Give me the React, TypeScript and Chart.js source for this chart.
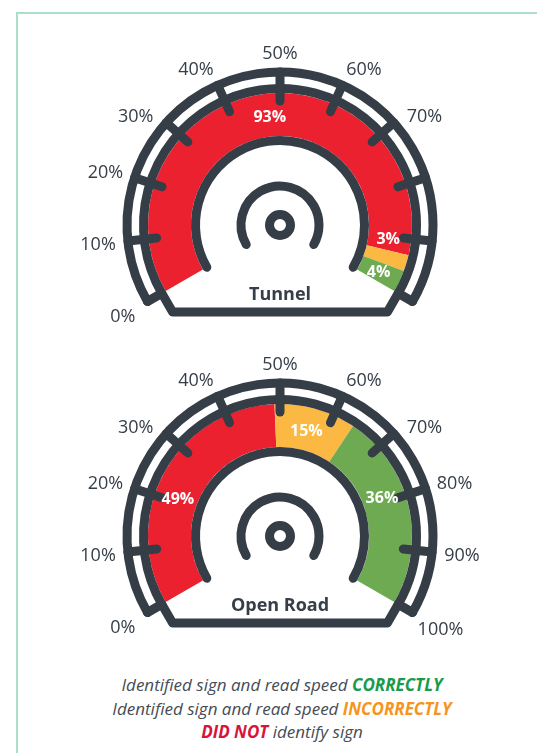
import React, { useEffect, useRef } from 'react';
import Chart from 'chart.js/auto';

// ---- data ----
const categories = ['Did not identify sign', 'Identified sign, read speed incorrectly', 'Identified sign, read speed correctly'];
const tunnelValues = [93, 3, 4];
const openRoadValues = [49, 15, 36];
const tunnelTickLabels = ['0%', '10%', '20%', '30%', '40%', '50%', '60%', '70%'];
const openRoadTickLabels = ['0%', '10%', '20%', '30%', '40%', '50%', '60%', '70%', '80%', '90%', '100%'];
const gaugeTitles = ['Tunnel', 'Open Road'];

// ---- styles ----
const DARK = '#353d46';
const TEXT = '#363e48';
const SEGMENT_COLORS = ['#ec2130', '#fbb943', '#6eaa51'];
const TICK_NUDGE_DEG = [0, 0, -1, -5, -4.3, 0, 4.3, 5, 1, 0, 0];
const TUNNEL_LABEL_SHIFT = [3, -9.8, 0];
const OPEN_ROAD_LABEL_SHIFT = [-8.4, -1.6, -7.5];

const gaugePlugin = {
  id: 'gauge',
  afterDatasetsDraw(chart: any, _args: any, opts: any) {
    const meta = chart.getDatasetMeta(0);
    const arcs = meta.data as any[];
    if (!arcs.length) return;
    const first = arcs[0];
    const last = arcs[arcs.length - 1];
    const cx = first.x, cy = first.y;
    const R = first.outerRadius, r0 = first.innerRadius;
    const a0 = first.startAngle, a1 = last.endAngle;
    const ctx = chart.ctx as CanvasRenderingContext2D;
    const pt = (r: number, a: number) => [cx + r * Math.cos(a), cy + r * Math.sin(a)];
    const toRad = (d: number) => (d * Math.PI) / 180;

    ctx.save();
    ctx.strokeStyle = DARK;
    ctx.lineWidth = 9;
    ctx.lineCap = 'round';
    ctx.lineJoin = 'round';

    const rOuter = R + 21;
    const rInner = R + 4.5;
    ctx.beginPath(); ctx.arc(cx, cy, rOuter, a0, a1); ctx.stroke();
    ctx.beginPath(); ctx.arc(cx, cy, rInner, a0, a1); ctx.stroke();

    // frame ends and base
    const baseY = cy + 87;
    const p0 = pt(rInner, a0);
    const p1 = pt(rInner, a1);
    const t0 = (baseY - p0[1]) / -Math.cos(a0);
    const left = [p0[0] + Math.sin(a0) * t0, baseY];
    const t1 = (baseY - p1[1]) / Math.cos(a1);
    const right = [p1[0] - Math.sin(a1) * t1, baseY];
    const q0 = pt(rOuter, a0), q1 = pt(rOuter, a1);
    ctx.beginPath();
    ctx.moveTo(q0[0], q0[1]);
    ctx.lineTo(p0[0], p0[1]);
    ctx.lineTo(left[0], left[1]);
    ctx.lineTo(right[0], right[1]);
    ctx.lineTo(p1[0], p1[1]);
    ctx.lineTo(q1[0], q1[1]);
    ctx.stroke();

    // ticks
    for (let i = 1; i < 10; i++) {
      const a = a0 + ((a1 - a0) * i) / 10;
      const s = pt(rOuter, a), e = pt(R - 8, a);
      ctx.beginPath(); ctx.moveTo(s[0], s[1]); ctx.lineTo(e[0], e[1]); ctx.stroke();
    }

    // inner arcs and hub
    ctx.beginPath(); ctx.arc(cx, cy, r0 - 4.5, a0, a1); ctx.stroke();
    ctx.beginPath(); ctx.arc(cx, cy, 39, a0, a1); ctx.stroke();
    ctx.beginPath(); ctx.arc(cx, cy, 10.5, 0, Math.PI * 2); ctx.stroke();

    // tick labels
    ctx.fillStyle = TEXT;
    ctx.font = '18px "Open Sans"';
    ctx.textAlign = 'center';
    ctx.textBaseline = 'middle';
    (opts.tickLabels || []).forEach((lab: string, i: number) => {
      const a = a0 + ((a1 - a0) * i) / 10 + toRad(TICK_NUDGE_DEG[i] || 0);
      const w = ctx.measureText(lab).width;
      const c = Math.abs(Math.cos(a));
      const r = 172 + 11 * c + Math.max(0, (w - 37) / 2) * c;
      const p = pt(r, a);
      ctx.fillText(lab, p[0], p[1] + 1);
    });

    // title
    ctx.font = 'bold 18px "Open Sans"';
    ctx.fillText(opts.title || '', cx, cy + 70);

    // value labels
    ctx.fillStyle = '#ffffff';
    ctx.font = 'bold 16px "Open Sans"';
    const values = chart.data.datasets[0].data as number[];
    arcs.forEach((arc: any, i: number) => {
      const shift = (opts.labelShift && opts.labelShift[i]) || 0;
      const a = (arc.startAngle + arc.endAngle) / 2 + toRad(shift);
      const p = pt(109, a);
      ctx.fillText(values[i] + '%', p[0], p[1] + 1);
    });
    ctx.restore();
  },
};

function Gauge({ values, tickLabels, title, labelShift, top }: any) {
  const ref = useRef<HTMLCanvasElement | null>(null);
  useEffect(() => {
    if (!ref.current) return;
    const chart = new Chart(ref.current, {
      type: 'doughnut',
      data: {
        labels: categories,
        datasets: [
          {
            data: values,
            backgroundColor: SEGMENT_COLORS,
            borderWidth: 0,
            clip: false as any,
          },
        ],
      },
      options: {
        responsive: false,
        animation: false,
        events: [],
        rotation: -120,
        circumference: 240,
        radius: 132,
        cutout: `${(89 / 132) * 100}%`,
        layout: { padding: { left: 23, top: 54 } },
        plugins: {
          legend: { display: false },
          tooltip: { enabled: false },
          gauge: { tickLabels, title, labelShift },
        } as any,
      },
      plugins: [gaugePlugin as any],
    });
    return () => chart.destroy();
  }, []);
  return (
    <canvas
      ref={ref}
      width={537}
      height={330}
      style={{ position: 'absolute', left: 0, top, width: 537, height: 330 }}
    />
  );
}

export default function App() {
  return (
    <div
      style={{
        position: 'absolute',
        left: 0,
        top: 0,
        width: 537,
        height: 753,
        overflow: 'hidden',
        background: '#ffffff',
        fontFamily: '"Open Sans", sans-serif',
      }}
    >
      <div
        style={{
          position: 'absolute',
          left: 16,
          top: 12,
          width: 700,
          height: 900,
          border: '2px solid #a9e0c7',
        }}
      />
      <Gauge values={tunnelValues} tickLabels={tunnelTickLabels} title={gaugeTitles[0]} labelShift={TUNNEL_LABEL_SHIFT} top={0} />
      <Gauge values={openRoadValues} tickLabels={openRoadTickLabels} title={gaugeTitles[1]} labelShift={OPEN_ROAD_LABEL_SHIFT} top={311} />
      <div
        style={{
          position: 'absolute',
          left: 0,
          top: 673,
          width: 564,
          textAlign: 'center',
          fontStyle: 'italic',
          fontSize: 17,
          lineHeight: '23.5px',
          color: '#454c55',
        }}
      >
        <div>
          Identified sign and read speed <b style={{ color: '#1a9b4b' }}>CORRECTLY</b>
        </div>
        <div>
          Identified sign and read speed <b style={{ color: '#f7941d' }}>INCORRECTLY</b>
        </div>
        <div>
          <b style={{ color: '#d9143a' }}>DID NOT</b> identify sign
        </div>
      </div>
    </div>
  );
}
